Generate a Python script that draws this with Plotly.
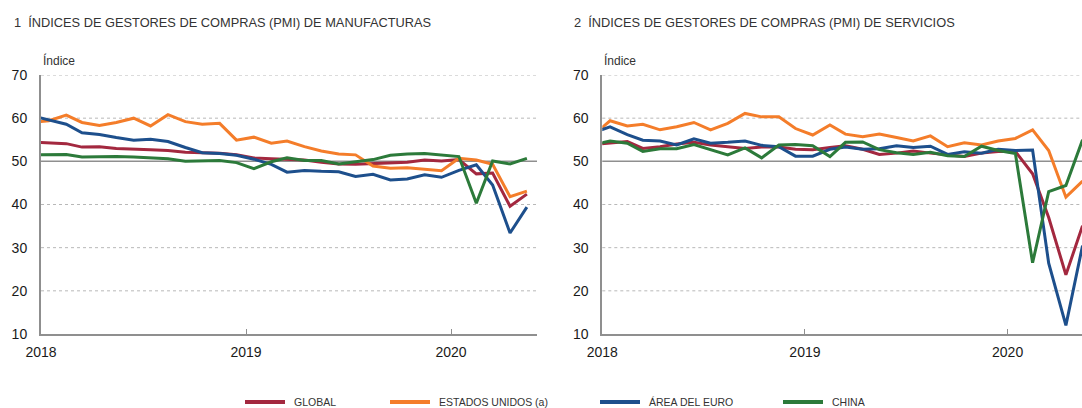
import plotly.graph_objects as go
import pandas as pd

W, H = 1082, 408

# Monthly observations (plotted mid-month), Dec 2017 .. May 2020
months = [(d + pd.Timedelta(days=14)).strftime("%Y-%m-%d")
          for d in pd.date_range("2017-12-01", "2020-05-01", freq="MS")]

series_names = ["GLOBAL", "ESTADOS UNIDOS (a)", "ÁREA DEL EURO", "CHINA"]
series_colors = ["#A3283F", "#F47D2A", "#1D4F8C", "#2C7A3A"]

# Panel 1: manufacturing PMI
mfg_global = [54.5, 54.3, 54.1, 53.3, 53.4, 53.0, 52.9, 52.7, 52.5, 52.1, 52.0, 51.9, 51.5,
              50.8, 50.6, 50.5, 50.3, 49.8, 49.4, 49.3, 49.5, 49.7, 49.8, 50.3, 50.1,
              50.4, 47.1, 47.3, 39.6, 42.4]
mfg_us = [59.0, 59.4, 60.7, 59.0, 58.3, 59.0, 60.0, 58.2, 60.8, 59.2, 58.6, 58.8, 54.9,
          55.6, 54.2, 54.7, 53.4, 52.4, 51.7, 51.5, 48.9, 48.4, 48.5, 48.2, 47.8,
          50.7, 50.3, 49.3, 41.8, 43.1]
mfg_euro = [60.6, 59.6, 58.6, 56.6, 56.2, 55.5, 54.9, 55.1, 54.6, 53.2, 52.0, 51.8, 51.4,
            50.5, 49.3, 47.5, 47.9, 47.7, 47.6, 46.5, 47.0, 45.7, 45.9, 46.9, 46.3,
            47.9, 49.2, 44.5, 33.4, 39.4]
mfg_china = [51.5, 51.5, 51.6, 51.0, 51.1, 51.1, 51.0, 50.8, 50.6, 50.0, 50.1, 50.2, 49.7,
             48.3, 49.9, 50.8, 50.2, 50.2, 49.4, 49.9, 50.4, 51.4, 51.7, 51.8, 51.5,
             51.1, 40.3, 50.1, 49.4, 50.7]

# Panel 2: services PMI
srv_global = [53.9, 54.2, 54.6, 53.0, 53.4, 54.0, 54.4, 53.8, 53.4, 53.0, 53.3, 53.3, 52.8,
              52.7, 53.2, 53.6, 52.8, 51.6, 51.9, 52.4, 51.9, 51.5, 51.1, 51.9, 52.3,
              52.3, 47.1, 37.0, 23.7, 35.1]
srv_us = [56.0, 59.4, 58.2, 58.6, 57.3, 58.0, 59.0, 57.3, 58.8, 61.1, 60.3, 60.3, 57.6,
          56.1, 58.4, 56.3, 55.7, 56.3, 55.5, 54.7, 55.9, 53.4, 54.3, 53.8, 54.7,
          55.3, 57.3, 52.5, 41.7, 45.4]
srv_euro = [56.6, 58.0, 56.2, 54.9, 54.7, 53.8, 55.2, 54.2, 54.4, 54.7, 53.7, 53.4, 51.2,
            51.2, 52.8, 53.3, 52.8, 52.9, 53.6, 53.2, 53.5, 51.6, 52.2, 51.9, 52.8,
            52.5, 52.6, 26.4, 12.0, 30.5]
srv_china = [53.9, 54.7, 54.2, 52.3, 52.9, 52.9, 53.9, 52.8, 51.5, 53.1, 50.8, 53.8, 53.9,
             53.6, 51.1, 54.4, 54.5, 52.7, 52.0, 51.6, 52.1, 51.3, 51.1, 53.5, 52.5,
             51.8, 26.5, 43.0, 44.4, 55.0]

panel_titles = ["1\u00a0\u00a0ÍNDICES DE GESTORES DE COMPRAS (PMI) DE MANUFACTURAS",
                "2\u00a0\u00a0ÍNDICES DE GESTORES DE COMPRAS (PMI) DE SERVICIOS"]
y_unit = "Índice"
y_ticks = [10, 20, 30, 40, 50, 60, 70]
x_tickvals = ["2018-01-01", "2019-01-01", "2020-01-01"]
x_ticktext = ["2018", "2019", "2020"]

fig = go.Figure()
for xa, ya, data in [("x", "y", [mfg_global, mfg_us, mfg_euro, mfg_china]),
                     ("x2", "y2", [srv_global, srv_us, srv_euro, srv_china])]:
    for name, col, vals in zip(series_names, series_colors, data):
        fig.add_trace(go.Scatter(x=months, y=vals, mode="lines", name=name,
                                 line=dict(color=col, width=3),
                                 xaxis=xa, yaxis=ya, showlegend=False,
                                 hoverinfo="skip"))

px = lambda v: v / W
py = lambda v: 1 - v / H

axis_col = "#8f8f8f"
tickfont = dict(family="Liberation Sans, Arial, sans-serif", size=14, color="#1a1a1a")

def xaxis(dom, rng, anchor):
    return dict(domain=dom, range=rng, type="date", tickvals=x_tickvals, ticktext=x_ticktext,
                ticks="inside", ticklen=5, tickwidth=1, tickcolor=axis_col,
                showline=True, linecolor=axis_col, linewidth=2, showgrid=False,
                zeroline=False, tickfont=tickfont, anchor=anchor, ticklabelstandoff=4,
                automargin=False, fixedrange=True)

def yaxis(anchor):
    return dict(domain=[py(334), py(75)], range=[10, 70], tickvals=y_ticks,
                showgrid=False, showline=True, linecolor=axis_col, linewidth=2, ticks="",
                zeroline=False, tickfont=tickfont, anchor=anchor, ticklabelstandoff=9,
                automargin=False, fixedrange=True)

fig.update_layout(
    width=W, height=H, autosize=False,
    margin=dict(l=0, r=0, t=0, b=0, pad=0, autoexpand=False),
    paper_bgcolor="white", plot_bgcolor="white",
    showlegend=False,
    xaxis=xaxis([px(41), px(537)], ["2018-01-01", "2020-06-02"], "y"),
    yaxis=yaxis("x"),
    xaxis2=xaxis([px(602.3), 1.0], ["2018-01-01", "2020-05-14"], "y2"),
    yaxis2=yaxis("x2"),
)

# horizontal gridlines (dashed) and the solid reference line at 50
for xr, yr in [("x domain", "y"), ("x2 domain", "y2")]:
    for v in y_ticks[1:]:
        if v == 50:
            ln = dict(color="#8f8f8f", width=1.5)
        else:
            ln = dict(color="#b8b8b8", width=1, dash="3px,3px")
        fig.add_shape(type="line", xref=xr, yref=yr, x0=0, x1=1, y0=v, y1=v,
                      line=ln, layer="below")

txtfont = "Liberation Sans, Arial, sans-serif"
# titles and unit labels
for tx, title in zip([12, 572], panel_titles):
    fig.add_annotation(text=title, xref="paper", yref="paper", x=px(tx), y=py(22),
                       xanchor="left", yanchor="middle", showarrow=False,
                       font=dict(family=txtfont, size=12.8, color="#333333"))
for ux in [41, 602]:
    fig.add_annotation(text=y_unit, xref="paper", yref="paper", x=px(ux), y=py(60),
                       xanchor="left", yanchor="middle", showarrow=False,
                       font=dict(family=txtfont, size=12, color="#333333"))

# legend
leg_x = [245, 390, 600, 783]
for lx, name, col in zip(leg_x, series_names, series_colors):
    fig.add_shape(type="line", xref="paper", yref="paper", x0=px(lx), x1=px(lx + 40),
                  y0=py(402), y1=py(402), line=dict(color=col, width=4))
    fig.add_annotation(text=name, xref="paper", yref="paper", x=px(lx + 47), y=py(402),
                       xanchor="left", yanchor="middle", showarrow=False,
                       font=dict(family=txtfont, size=10.5, color="#333333"))

fig.write_html("out.html", config={"displayModeBar": False, "responsive": False})

# remove the browser's default page margin so the figure sits at the window origin
with open("out.html", encoding="utf-8") as f:
    html = f.read()
html = html.replace("<head>", "<head><style>html,body{margin:0;padding:0;overflow:hidden;}</style>", 1)
with open("out.html", "w", encoding="utf-8") as f:
    f.write(html)
